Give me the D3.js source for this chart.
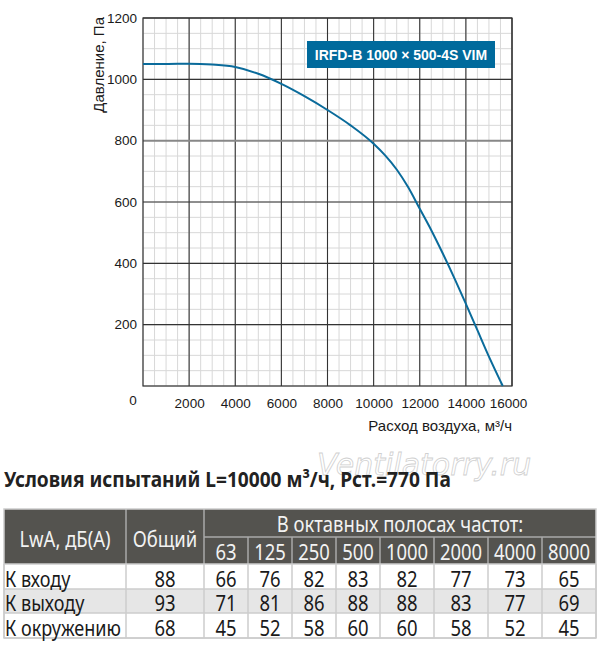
<!DOCTYPE html>
<html>
<head>
<meta charset="utf-8">
<script src="https://cdn.jsdelivr.net/npm/d3@7"></script>
<style>
body { margin: 0; background: #fff; }
svg { display: block; }
.tick-label { font-family: "Liberation Sans", Arial, sans-serif; font-size: 13.5px; fill: #1a1a1a; }
.axis-title { font-family: "Liberation Sans", Arial, sans-serif; font-size: 15px; fill: #1a1a1a; }
.tbl { font-family: "Noto Sans", sans-serif; font-size: 21px; }
</style>
</head>
<body>
<script>
// chart data
var flow = [0, 1000, 2000, 3000, 4000, 5000, 6000, 7000, 8000, 9000, 10000, 10500, 11000, 11500, 12000, 12500, 13000, 13500, 14000, 14500, 15000, 15600];
var pressure = [1050, 1050, 1051, 1048, 1040, 1018, 985, 945, 900, 850, 790, 752, 706, 648, 578, 508, 432, 352, 268, 182, 96, 0];
var xTickVals = [2000, 4000, 6000, 8000, 10000, 12000, 14000, 16000];
var yTickVals = [200, 400, 600, 800, 1000, 1200];

// noise table
var bands = ["63", "125", "250", "500", "1000", "2000", "4000", "8000"];
var rowNames = ["К входу", "К выходу", "К окружению"];
var totals = [88, 93, 68];
var inlet = [66, 76, 82, 83, 82, 77, 73, 65];
var outlet = [71, 81, 86, 88, 88, 83, 77, 69];
var surround = [45, 52, 58, 60, 60, 58, 52, 45];

var W = 600, H = 652;
var svg = d3.select("body").append("svg")
            .attr("width", W)
            .attr("height", H);

// plot area
var pLeft = 143, pRight = 512, pTop = 18, pBottom = 386;
var x = d3.scaleLinear().domain([0, 16000]).range([pLeft, pRight]);
var y = d3.scaleLinear().domain([0, 1200]).range([pBottom, pTop]);

var grid = svg.append("g");
// minor grid
grid.selectAll(".vminor").data(d3.range(0, 16001, 500)).enter().append("line")
    .attr("x1", function(d){ return x(d); }).attr("x2", function(d){ return x(d); })
    .attr("y1", pTop).attr("y2", pBottom)
    .attr("stroke", "#d8d8d8").attr("stroke-width", 1);
grid.selectAll(".hminor").data(d3.range(0, 1201, 50)).enter().append("line")
    .attr("y1", function(d){ return y(d); }).attr("y2", function(d){ return y(d); })
    .attr("x1", pLeft).attr("x2", pRight)
    .attr("stroke", "#d8d8d8").attr("stroke-width", 1);
// major grid
grid.selectAll(".vmajor").data(xTickVals).enter().append("line")
    .attr("x1", function(d){ return x(d); }).attr("x2", function(d){ return x(d); })
    .attr("y1", pTop).attr("y2", pBottom)
    .attr("stroke", "#333").attr("stroke-width", 1.1);
grid.selectAll(".hmajor").data(yTickVals).enter().append("line")
    .attr("y1", function(d){ return y(d); }).attr("y2", function(d){ return y(d); })
    .attr("x1", pLeft).attr("x2", pRight)
    .attr("stroke", function(d){ return d == 800 ? "#888" : "#333"; })
    .attr("stroke-width", function(d){ return d == 800 ? 2 : 1.1; });
// frame
svg.append("rect")
   .attr("x", pLeft).attr("y", pTop)
   .attr("width", pRight - pLeft).attr("height", pBottom - pTop)
   .attr("fill", "none").attr("stroke", "#333").attr("stroke-width", 1.2);

// axes labels
var xAxis = d3.axisBottom(x).tickValues(xTickVals).tickFormat(d3.format("d")).tickSize(0).tickPadding(9);
var gx = svg.append("g").attr("transform", "translate(0," + pBottom + ")").call(xAxis);
gx.select(".domain").remove();
gx.selectAll("text").attr("class", "tick-label").attr("dy", "0.95em")
  .attr("dx", function(d){ return d == 16000 ? -4 : 0; });
svg.append("text").attr("class", "tick-label")
   .attr("x", 133).attr("y", pBottom + 19).attr("text-anchor", "middle").text("0");

var yAxis = d3.axisLeft(y).tickValues(yTickVals).tickFormat(d3.format("d")).tickSize(0).tickPadding(6);
var gy = svg.append("g").attr("transform", "translate(" + pLeft + ",0)").call(yAxis);
gy.select(".domain").remove();
gy.selectAll("text").attr("class", "tick-label");

svg.append("text").attr("class", "axis-title")
   .attr("transform", "translate(104," + (pTop - 1) + ") rotate(-90)")
   .attr("text-anchor", "end")
   .text("Давление, Па");

svg.append("text").attr("class", "axis-title")
   .attr("x", pRight).attr("y", 431)
   .attr("text-anchor", "end")
   .text("Расход воздуха, м³/ч");

// the curve
var line = d3.line()
    .x(function(d){ return x(d[0]); })
    .y(function(d){ return y(d[1]); })
    .curve(d3.curveMonotoneX);
svg.append("path")
   .datum(d3.zip(flow, pressure))
   .attr("d", line)
   .attr("fill", "none")
   .attr("stroke", "#0a6b9b")
   .attr("stroke-width", 2);

// model label
svg.append("rect")
   .attr("x", 307).attr("y", 41).attr("width", 188).attr("height", 27)
   .attr("fill", "#006a9c");
svg.append("text")
   .attr("x", 401).attr("y", 59.5)
   .attr("text-anchor", "middle")
   .attr("font-family", "Liberation Sans, Arial, sans-serif")
   .attr("font-weight", "bold").attr("font-size", 14)
   .attr("fill", "#fff")
   .text("IRFD-B 1000 × 500-4S VIM");

// watermark
svg.append("text")
   .attr("x", 317).attr("y", 475)
   .attr("font-family", "DejaVu Sans, sans-serif")
   .attr("font-style", "italic").attr("font-size", 30)
   .attr("fill", "#fff").attr("stroke", "#d0d0d0").attr("stroke-width", 0.8)
   .text("Ventilatorry.ru");

// condensed text helper
function put(g, tx, ty, str, anchor, fill, sx) {
  return g.append("text")
    .attr("transform", "translate(" + tx + "," + ty + ") scale(" + (sx || 0.88) + ",1)")
    .attr("text-anchor", anchor || "start")
    .attr("fill", fill)
    .text(str);
}

// table title
put(svg.append("g").attr("class", "tbl").attr("font-weight", "bold"),
    4, 487, "Условия испытаний L=10000 м³/ч, Рст.=770 Па", "start", "#222", 0.91);

// table
var colEdges = [4, 126, 204, 248, 292, 336, 380, 434, 488, 542, 596];
var hTop = 509, hMid = 537, hBot = 564;
var rowEdges = [564, 589, 613, 638];
var headFill = "#54534f", lineCol = "#cccccc";

var tbl = svg.append("g").attr("class", "tbl");
tbl.append("rect").attr("x", colEdges[0]).attr("y", hTop)
   .attr("width", colEdges[10] - colEdges[0]).attr("height", hBot - hTop)
   .attr("fill", headFill);
tbl.append("rect").attr("x", colEdges[0]).attr("y", rowEdges[1])
   .attr("width", colEdges[10] - colEdges[0]).attr("height", rowEdges[2] - rowEdges[1])
   .attr("fill", "#e6e6e6");

// header lines
[colEdges[1], colEdges[2]].forEach(function(cx){
  tbl.append("line").attr("x1", cx).attr("x2", cx).attr("y1", hTop).attr("y2", hBot)
     .attr("stroke", "#a8a8a8").attr("stroke-width", 1.5);
});
tbl.append("line").attr("x1", colEdges[2]).attr("x2", colEdges[10]).attr("y1", hMid).attr("y2", hMid)
   .attr("stroke", "#a8a8a8").attr("stroke-width", 1.5);
colEdges.slice(3, 10).forEach(function(cx){
  tbl.append("line").attr("x1", cx).attr("x2", cx).attr("y1", hMid).attr("y2", hBot)
     .attr("stroke", "#a8a8a8").attr("stroke-width", 1.5);
});
// body lines
colEdges.forEach(function(cx){
  tbl.append("line").attr("x1", cx).attr("x2", cx).attr("y1", hBot).attr("y2", rowEdges[3])
     .attr("stroke", lineCol).attr("stroke-width", 1.5);
});
rowEdges.forEach(function(ry){
  tbl.append("line").attr("x1", colEdges[0]).attr("x2", colEdges[10]).attr("y1", ry).attr("y2", ry)
     .attr("stroke", lineCol).attr("stroke-width", 1.5);
});
tbl.append("rect").attr("x", colEdges[0]).attr("y", hTop)
   .attr("width", colEdges[10] - colEdges[0]).attr("height", rowEdges[3] - hTop)
   .attr("fill", "none").attr("stroke", lineCol).attr("stroke-width", 1.5);

// header text
var headTxt = "#f2f2f2";
put(tbl, (colEdges[0] + colEdges[1]) / 2, 546.5, "LwA, дБ(A)", "middle", headTxt);
put(tbl, (colEdges[1] + colEdges[2]) / 2, 546.5, "Общий", "middle", headTxt);
put(tbl, (colEdges[2] + colEdges[10]) / 2, 532, "В октавных полосах частот:", "middle", headTxt);
bands.forEach(function(b, i){
  put(tbl, (colEdges[i + 2] + colEdges[i + 3]) / 2, 560, b, "middle", headTxt);
});

// body text
var rows = [inlet, outlet, surround];
rows.forEach(function(vals, r){
  var by = rowEdges[r + 1] - 2.5;
  put(tbl, 5, by, rowNames[r], "start", "#1a1a1a", 0.86);
  put(tbl, (colEdges[1] + colEdges[2]) / 2, by, totals[r], "middle", "#1a1a1a");
  vals.forEach(function(v, i){
    put(tbl, (colEdges[i + 2] + colEdges[i + 3]) / 2, by, v, "middle", "#1a1a1a");
  });
});
</script>
</body>
</html>
